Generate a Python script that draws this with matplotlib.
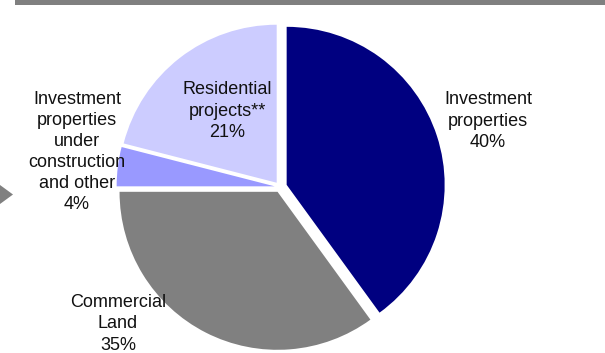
import matplotlib.pyplot as plt
from matplotlib.patches import Polygon, Rectangle

plt.rcParams['font.family'] = ['Liberation Sans', 'DejaVu Sans']

categories = ['Investment\nproperties', 'Commercial\nLand',
              'Investment\nproperties\nunder\nconstruction\nand other',
              'Residential\nprojects**']
shares = [40, 35, 4, 21]
colors = ['#000080', '#808080', '#9999ff', '#ccccff']
# slice offsets in pixels
explode = [7, 5.4, 5.4, 5.4]

# label anchor points in pixel space (x, y from top)
label_pos = [(488, 121), (118, 324), (77, 152), (227, 111)]

W, H = 605, 353
fig = plt.figure(figsize=(W / 100, H / 100), dpi=100)
ax = fig.add_axes([0, 0, 1, 1])

cx, cy, r = 280, H - 187, 158
ax.pie(shares, colors=colors, explode=explode, startangle=90,
       counterclock=False, center=(cx, cy), radius=r,
       wedgeprops=dict(linewidth=0))

for name, val, (x, y) in zip(categories, shares, label_pos):
    ax.text(x, H - y, f"{name}\n{val}%", ha='center', va='center',
            fontsize=13, color='#111111', linespacing=1.32)

# header strip and side pointer
ax.add_patch(Rectangle((15, H - 4.5), W - 15, 4.5, color='#808080', lw=0))
ax.add_patch(Polygon([(0, H - 185), (0, H - 204), (13, H - 194.5)],
                     closed=True, color='#808080', lw=0))

ax.set_xlim(0, W)
ax.set_ylim(0, H)
ax.axis('off')
fig.savefig('out.png', dpi=100)
